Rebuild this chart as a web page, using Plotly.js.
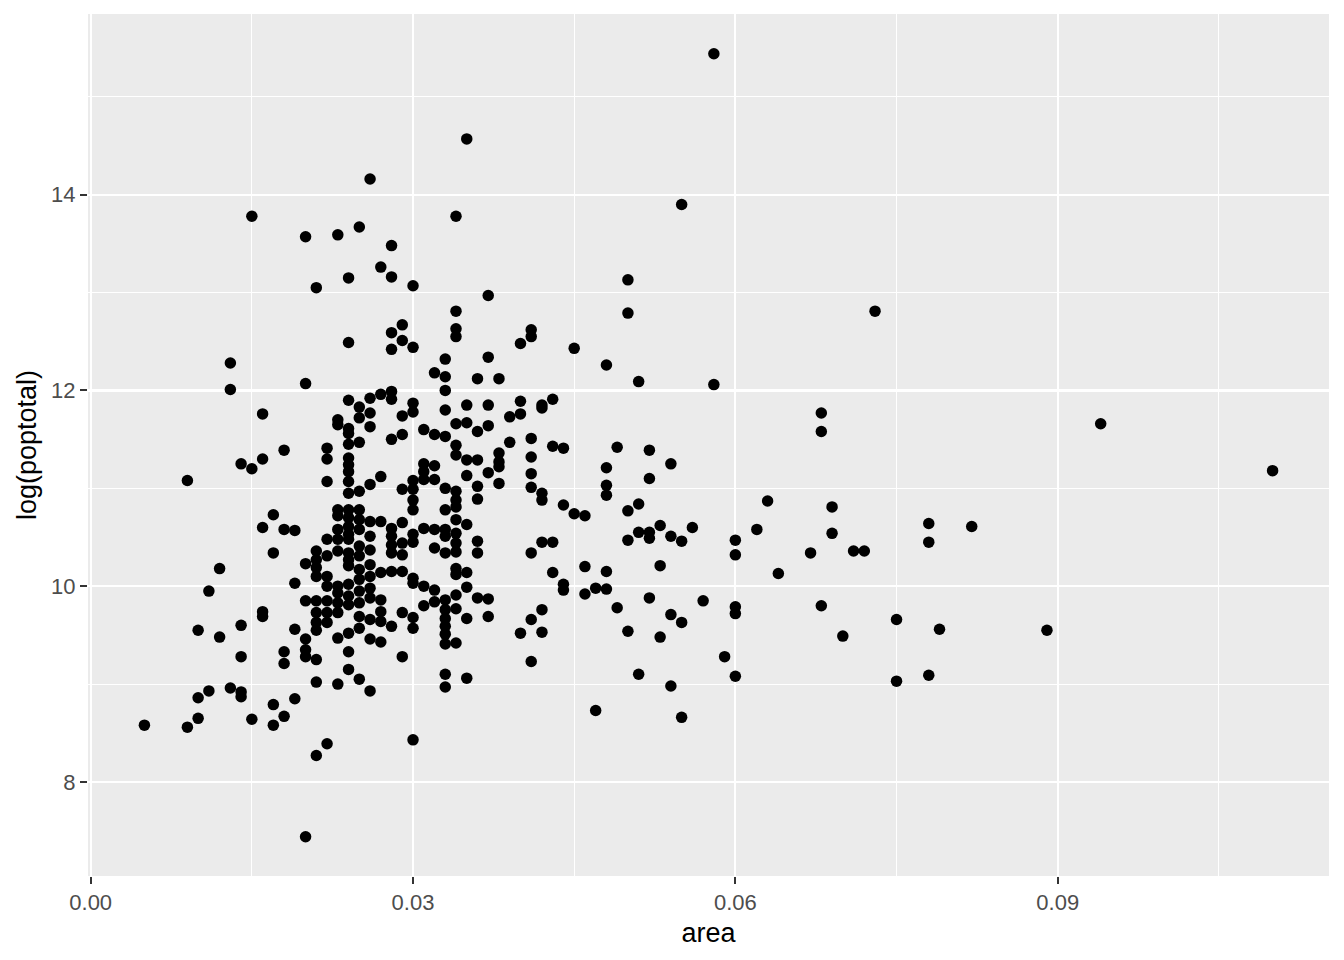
<!DOCTYPE html>
<html>
<head>
<meta charset="utf-8">
<script src="https://cdn.plot.ly/plotly-3.0.1.min.js"></script>
<style>
  html, body { margin: 0; padding: 0; background: #ffffff; }
  #chart { width: 1344px; height: 960px; }
</style>
</head>
<body>
<div id="chart"></div>
<script>
// County area values (grouped by distinct area value)
const areaValues = [
  0.005, 0.009, 0.010, 0.011, 0.012, 0.013, 0.014, 0.015, 0.016, 0.017,
  0.018, 0.019, 0.020, 0.021, 0.022, 0.023, 0.024, 0.025, 0.026, 0.027,
  0.028, 0.029, 0.030, 0.031, 0.032, 0.033, 0.034, 0.035, 0.036, 0.037,
  0.038, 0.039, 0.040, 0.041, 0.042, 0.043, 0.044, 0.045, 0.046, 0.047,
  0.048, 0.049, 0.050, 0.051, 0.052, 0.053, 0.054, 0.055, 0.056, 0.057,
  0.058, 0.059, 0.060, 0.062, 0.063, 0.064, 0.067, 0.068, 0.069, 0.070,
  0.071, 0.072, 0.073, 0.075, 0.078, 0.079, 0.082, 0.089, 0.094, 0.110
];

// log(poptotal) values for the counties at each area value above
const logPopByArea = [
  [8.58],
  [11.08, 8.56],
  [9.55, 8.86, 8.65],
  [9.95, 8.93],
  [10.18, 9.48],
  [12.28, 12.01, 8.96],
  [11.25, 9.60, 9.28, 8.92, 8.87],
  [13.78, 11.20, 8.64],
  [11.76, 11.30, 10.60, 9.74, 9.69],
  [10.73, 10.34, 8.79, 8.58],
  [11.39, 10.58, 9.33, 9.21, 8.67],
  [10.57, 10.03, 9.56, 8.85],
  [13.57, 12.07, 10.23, 9.85, 9.46, 9.35, 9.28, 7.44],
  [13.05, 10.36, 10.27, 10.19, 10.10, 9.85, 9.73, 9.63, 9.55, 9.25, 9.02, 8.27],
  [11.41, 11.30, 11.07, 10.48, 10.31, 10.10, 10.00, 9.85, 9.73, 9.63, 8.39],
  [13.59, 11.70, 11.65, 10.78, 10.72, 10.58, 10.48, 10.36, 10.00, 9.93, 9.83, 9.73, 9.47, 9.00],
  [13.15, 12.49, 11.90, 11.61, 11.56, 11.45, 11.31, 11.24, 11.17, 11.07, 10.95, 10.78, 10.70, 10.61, 10.53, 10.48, 10.34, 10.27, 10.21, 10.02, 9.90, 9.81, 9.52, 9.33, 9.15],
  [13.67, 11.83, 11.72, 11.47, 10.97, 10.78, 10.68, 10.58, 10.41, 10.31, 10.17, 10.07, 9.95, 9.83, 9.69, 9.57, 9.05],
  [14.16, 11.92, 11.77, 11.63, 11.04, 10.66, 10.51, 10.37, 10.22, 10.10, 9.98, 9.88, 9.66, 9.46, 8.93],
  [13.26, 11.96, 11.12, 10.66, 10.14, 9.86, 9.74, 9.64, 9.43],
  [13.48, 13.16, 12.59, 12.42, 11.99, 11.91, 11.50, 10.59, 10.51, 10.42, 10.34, 10.15, 9.59],
  [12.67, 12.51, 11.74, 11.55, 10.99, 10.65, 10.44, 10.32, 10.15, 9.73, 9.28],
  [13.07, 12.44, 11.87, 11.78, 11.08, 10.99, 10.88, 10.78, 10.53, 10.45, 10.08, 10.03, 9.68, 9.57, 8.43],
  [11.60, 11.25, 11.17, 11.09, 10.59, 10.00, 9.80],
  [12.18, 11.55, 11.23, 11.09, 10.58, 10.39, 9.96, 9.84],
  [12.32, 12.14, 12.00, 11.80, 11.53, 11.00, 10.78, 10.58, 10.51, 10.34, 9.86, 9.76, 9.67, 9.59, 9.51, 9.41, 9.10, 8.97],
  [13.78, 12.81, 12.63, 12.55, 11.66, 11.44, 11.34, 10.97, 10.88, 10.81, 10.68, 10.54, 10.44, 10.35, 10.18, 10.12, 9.91, 9.77, 9.42],
  [14.57, 11.85, 11.67, 11.29, 11.13, 10.63, 10.14, 9.99, 9.67, 9.06],
  [12.12, 11.58, 11.29, 11.02, 10.89, 10.46, 10.34, 9.88],
  [12.97, 12.34, 11.85, 11.64, 11.16, 9.87, 9.69],
  [12.12, 11.36, 11.27, 11.22, 11.05],
  [11.73, 11.47],
  [12.48, 11.89, 11.76, 9.52],
  [12.62, 12.55, 11.51, 11.32, 11.15, 11.01, 10.34, 9.66, 9.23],
  [11.85, 11.82, 10.95, 10.88, 10.45, 9.76, 9.53],
  [11.91, 11.43, 10.45, 10.14],
  [11.41, 10.83, 10.02, 9.96],
  [12.43, 10.74],
  [10.72, 10.20, 9.92],
  [9.98, 8.73],
  [12.26, 11.21, 11.03, 10.93, 10.15, 9.97],
  [11.42, 9.78],
  [13.13, 12.79, 10.77, 10.47, 9.54],
  [12.09, 10.84, 10.55, 9.10],
  [11.39, 11.10, 10.55, 10.49, 9.88],
  [10.62, 10.21, 9.48],
  [11.25, 10.51, 9.71, 8.98],
  [13.90, 10.46, 9.63, 8.66],
  [10.60],
  [9.85],
  [15.44, 12.06],
  [9.28],
  [10.47, 10.32, 9.79, 9.72, 9.08],
  [10.58],
  [10.87],
  [10.13],
  [10.34],
  [11.77, 11.58, 9.80],
  [10.81, 10.54],
  [9.49],
  [10.36],
  [10.36],
  [12.81],
  [9.66, 9.03],
  [10.64, 10.45, 9.09],
  [9.56],
  [10.61],
  [9.55],
  [11.66],
  [11.18]
];

const xTickValues = [0, 0.03, 0.06, 0.09];
const xTickLabels = ["0.00", "0.03", "0.06", "0.09"];
const yTickValues = [8, 10, 12, 14];
const yTickLabels = ["8", "10", "12", "14"];

const xs = [];
const ys = [];
areaValues.forEach((a, i) => {
  logPopByArea[i].forEach(v => { xs.push(a); ys.push(v); });
});

const FONT = '"Liberation Sans", Arial, Helvetica, sans-serif';

const trace = {
  type: 'scatter',
  mode: 'markers',
  x: xs,
  y: ys,
  marker: { color: '#000000', size: 11.5, line: { width: 0 } },
  hoverinfo: 'x+y'
};

const layout = {
  width: 1344,
  height: 960,
  margin: { l: 88, r: 15, t: 14, b: 84 },
  paper_bgcolor: '#ffffff',
  plot_bgcolor: '#EBEBEB',
  showlegend: false,
  font: { family: FONT, color: '#4D4D4D' },
  xaxis: {
    range: [-0.00025, 0.11525],
    tickmode: 'array',
    tickvals: xTickValues,
    ticktext: xTickLabels,
    ticks: 'outside',
    ticklen: 7,
    tickwidth: 2,
    tickcolor: '#333333',
    tickfont: { family: FONT, size: 22, color: '#4D4D4D' },
    showgrid: true,
    gridcolor: '#ffffff',
    gridwidth: 2.2,
    minor: { tickmode: 'linear', tick0: 0, dtick: 0.015, showgrid: true, gridcolor: '#ffffff', gridwidth: 1.1, ticks: '' },
    zeroline: false,
    showline: false,
    title: { text: 'area', font: { family: FONT, size: 27, color: '#000000' }, standoff: 8 }
  },
  yaxis: {
    range: [7.039, 15.846],
    tickmode: 'array',
    tickvals: yTickValues,
    ticktext: yTickLabels,
    ticks: 'outside',
    ticklen: 7,
    tickwidth: 2,
    tickcolor: '#333333',
    tickfont: { family: FONT, size: 22, color: '#4D4D4D' },
    showgrid: true,
    gridcolor: '#ffffff',
    gridwidth: 2.2,
    minor: { tickmode: 'linear', tick0: 0, dtick: 1, showgrid: true, gridcolor: '#ffffff', gridwidth: 1.1, ticks: '' },
    zeroline: false,
    showline: false,
    title: { text: 'log(poptotal)', font: { family: FONT, size: 27, color: '#000000' }, standoff: 6 }
  }
};

Plotly.newPlot('chart', [trace], layout, { displayModeBar: false, staticPlot: true });
</script>
</body>
</html>
